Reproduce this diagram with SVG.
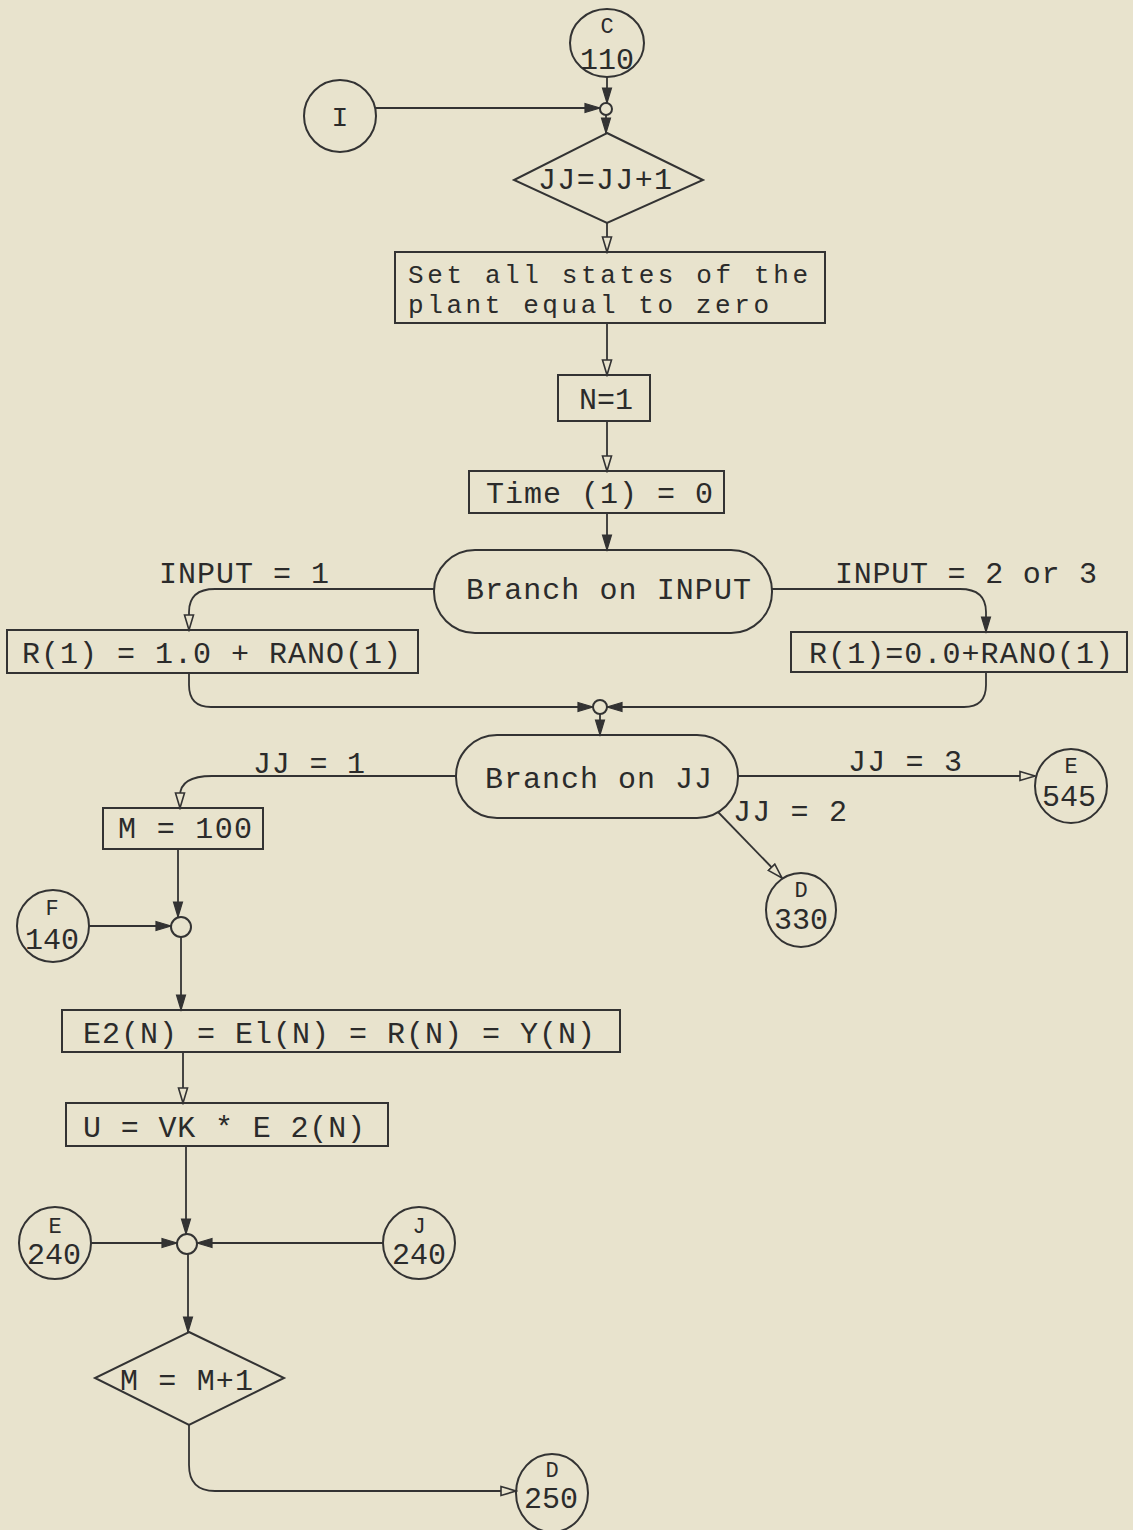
<svg xmlns="http://www.w3.org/2000/svg" width="1133" height="1530" viewBox="0 0 1133 1530">
<style>
.bg{fill:#e8e3cd}
.sh{fill:none;stroke:#333;stroke-width:2}
.jn{fill:#e8e3cd;stroke:#333;stroke-width:2}
.ln{fill:none;stroke:#333;stroke-width:1.8}
.t{font-family:"Liberation Mono","DejaVu Sans Mono",monospace;font-size:30px;fill:#2b2b2b}
.t2{font-family:"Liberation Mono","DejaVu Sans Mono",monospace;font-size:26px;fill:#2b2b2b}
.cn{font-family:"Liberation Mono","DejaVu Sans Mono",monospace;font-size:30px;fill:#2b2b2b;text-anchor:middle}
.cl{font-family:"Liberation Mono","DejaVu Sans Mono",monospace;font-size:22px;fill:#2b2b2b;text-anchor:middle}
</style>
<defs>
<marker id="ao" markerUnits="userSpaceOnUse" markerWidth="18" markerHeight="12" refX="16" refY="6" orient="auto">
<path d="M1,1.5 L16,6 L1,10.5 Z" fill="#e8e3cd" stroke="#333" stroke-width="1.6"/>
</marker>
<marker id="as" markerUnits="userSpaceOnUse" markerWidth="18" markerHeight="12" refX="16" refY="6" orient="auto">
<path d="M1,1.5 L16,6 L1,10.5 Z" fill="#333" stroke="#333" stroke-width="1.2"/>
</marker>
</defs>
<rect class="bg" x="0" y="0" width="1133" height="1530"/>

<g id="connectors">
<path class="ln" d="M607,77 V103" marker-end="url(#as)"/>
<path class="ln" d="M376,108 H600" marker-end="url(#as)"/>
<path class="ln" d="M606,115 V133" marker-end="url(#as)"/>
<path class="ln" d="M607,223 V252" marker-end="url(#ao)"/>
<path class="ln" d="M607,323 V375" marker-end="url(#ao)"/>
<path class="ln" d="M607,421 V471" marker-end="url(#ao)"/>
<path class="ln" d="M607,513 V550" marker-end="url(#as)"/>
<path class="ln" d="M434,589 H215 Q189,589 189,612 V630" marker-end="url(#ao)"/>
<path class="ln" d="M772,589 H960 Q986,589 986,612 V632" marker-end="url(#as)"/>
<path class="ln" d="M189,673 V685 Q189,707 211,707 H593" marker-end="url(#as)"/>
<path class="ln" d="M986,672 V685 Q986,707 964,707 H607" marker-end="url(#as)"/>
<path class="ln" d="M600,714 V735" marker-end="url(#as)"/>
<path class="ln" d="M456,776 H212 Q180,776 180,796 V808" marker-end="url(#ao)"/>
<path class="ln" d="M738,776 H1035" marker-end="url(#ao)"/>
<path class="ln" d="M718,812 L782,878" marker-end="url(#ao)"/>
<path class="ln" d="M178,849 V917" marker-end="url(#as)"/>
<path class="ln" d="M89,926 H171" marker-end="url(#as)"/>
<path class="ln" d="M181,937 V1010" marker-end="url(#as)"/>
<path class="ln" d="M183,1052 V1103" marker-end="url(#ao)"/>
<path class="ln" d="M186,1146 V1234" marker-end="url(#as)"/>
<path class="ln" d="M91,1243 H177" marker-end="url(#as)"/>
<path class="ln" d="M383,1243 H197" marker-end="url(#as)"/>
<path class="ln" d="M188,1254 V1332" marker-end="url(#as)"/>
<path class="ln" d="M189,1425 V1465 Q189,1491 215,1491 H516" marker-end="url(#ao)"/>
</g>

<g id="n-c110">
<ellipse class="sh" cx="607" cy="43" rx="37" ry="34"/>
<text class="cl" x="607" y="33">C</text>
<text class="cn" x="607" y="69">110</text>
</g>
<g id="n-i">
<circle class="sh" cx="340" cy="116" r="36"/>
<text class="cn" x="340" y="126" style="font-size:28px">I</text>
</g>
<g id="j1"><circle class="jn" cx="606" cy="109" r="6"/></g>
<g id="n-jjinc">
<polygon class="sh" points="607,133 703,180 607,223 514,180"/>
<text class="t" x="538" y="189" textLength="134">JJ=JJ+1</text>
</g>
<g id="n-set">
<rect class="sh" x="395" y="252" width="430" height="71"/>
<text class="t2" x="408" y="283" textLength="400">Set all states of the</text>
<text class="t2" x="408" y="313" textLength="361">plant equal to zero</text>
</g>
<g id="n-n1">
<rect class="sh" x="558" y="375" width="92" height="46"/>
<text class="t" x="579" y="409" textLength="54">N=1</text>
</g>
<g id="n-time">
<rect class="sh" x="469" y="471" width="255" height="42"/>
<text class="t" x="486" y="503" textLength="227">Time (1) = 0</text>
</g>
<g id="n-brinput">
<rect class="sh" x="434" y="550" width="338" height="83" rx="41" ry="41"/>
<text class="t" x="466" y="599" textLength="285">Branch on INPUT</text>
</g>
<g id="lbl-input1"><text class="t" x="159" y="583" textLength="170">INPUT = 1</text></g>
<g id="lbl-input23"><text class="t" x="835" y="583" textLength="262">INPUT = 2 or 3</text></g>
<g id="n-r1a">
<rect class="sh" x="7" y="630" width="411" height="43"/>
<text class="t" x="22" y="663" textLength="379">R(1) = 1.0 + RANO(1)</text>
</g>
<g id="n-r1b">
<rect class="sh" x="791" y="632" width="336" height="40"/>
<text class="t" x="809" y="663" textLength="304">R(1)=0.0+RANO(1)</text>
</g>
<g id="j2"><circle class="jn" cx="600" cy="707" r="7"/></g>
<g id="n-brjj">
<rect class="sh" x="456" y="735" width="282" height="83" rx="41" ry="41"/>
<text class="t" x="485" y="788" textLength="227">Branch on JJ</text>
</g>
<g id="lbl-jj1"><text class="t" x="253" y="773" textLength="112">JJ = 1</text></g>
<g id="lbl-jj3"><text class="t" x="848" y="771" textLength="114">JJ = 3</text></g>
<g id="lbl-jj2"><text class="t" x="733" y="821" textLength="114">JJ = 2</text></g>
<g id="n-e545">
<ellipse class="sh" cx="1071" cy="786" rx="36" ry="37"/>
<text class="cl" x="1071" y="773">E</text>
<text class="cn" x="1069" y="806">545</text>
</g>
<g id="n-d330">
<ellipse class="sh" cx="801" cy="910" rx="35" ry="37"/>
<text class="cl" x="801" y="897">D</text>
<text class="cn" x="801" y="929">330</text>
</g>
<g id="n-m100">
<rect class="sh" x="103" y="808" width="160" height="41"/>
<text class="t" x="118" y="838" textLength="134">M = 100</text>
</g>
<g id="j3"><circle class="jn" cx="181" cy="927" r="10"/></g>
<g id="n-f140">
<circle class="sh" cx="53" cy="926" r="36"/>
<text class="cl" x="52" y="915">F</text>
<text class="cn" x="52" y="949">140</text>
</g>
<g id="n-e2">
<rect class="sh" x="62" y="1010" width="558" height="42"/>
<text class="t" x="83" y="1043" textLength="512">E2(N) = El(N) = R(N) = Y(N)</text>
</g>
<g id="n-u">
<rect class="sh" x="66" y="1103" width="322" height="43"/>
<text class="t" x="83" y="1137" textLength="282">U = VK * E 2(N)</text>
</g>
<g id="j4"><circle class="jn" cx="187" cy="1244" r="10"/></g>
<g id="n-e240">
<circle class="sh" cx="55" cy="1243" r="36"/>
<text class="cl" x="55" y="1233">E</text>
<text class="cn" x="54" y="1264">240</text>
</g>
<g id="n-j240">
<circle class="sh" cx="419" cy="1243" r="36"/>
<text class="cl" x="419" y="1233">J</text>
<text class="cn" x="419" y="1264">240</text>
</g>
<g id="n-mm1">
<polygon class="sh" points="189,1332 284,1378 189,1425 95,1378"/>
<text class="t" x="120" y="1390" textLength="133">M = M+1</text>
</g>
<g id="n-d250">
<ellipse class="sh" cx="552" cy="1493" rx="36" ry="39"/>
<text class="cl" x="552" y="1477">D</text>
<text class="cn" x="551" y="1508">250</text>
</g>
</svg>
